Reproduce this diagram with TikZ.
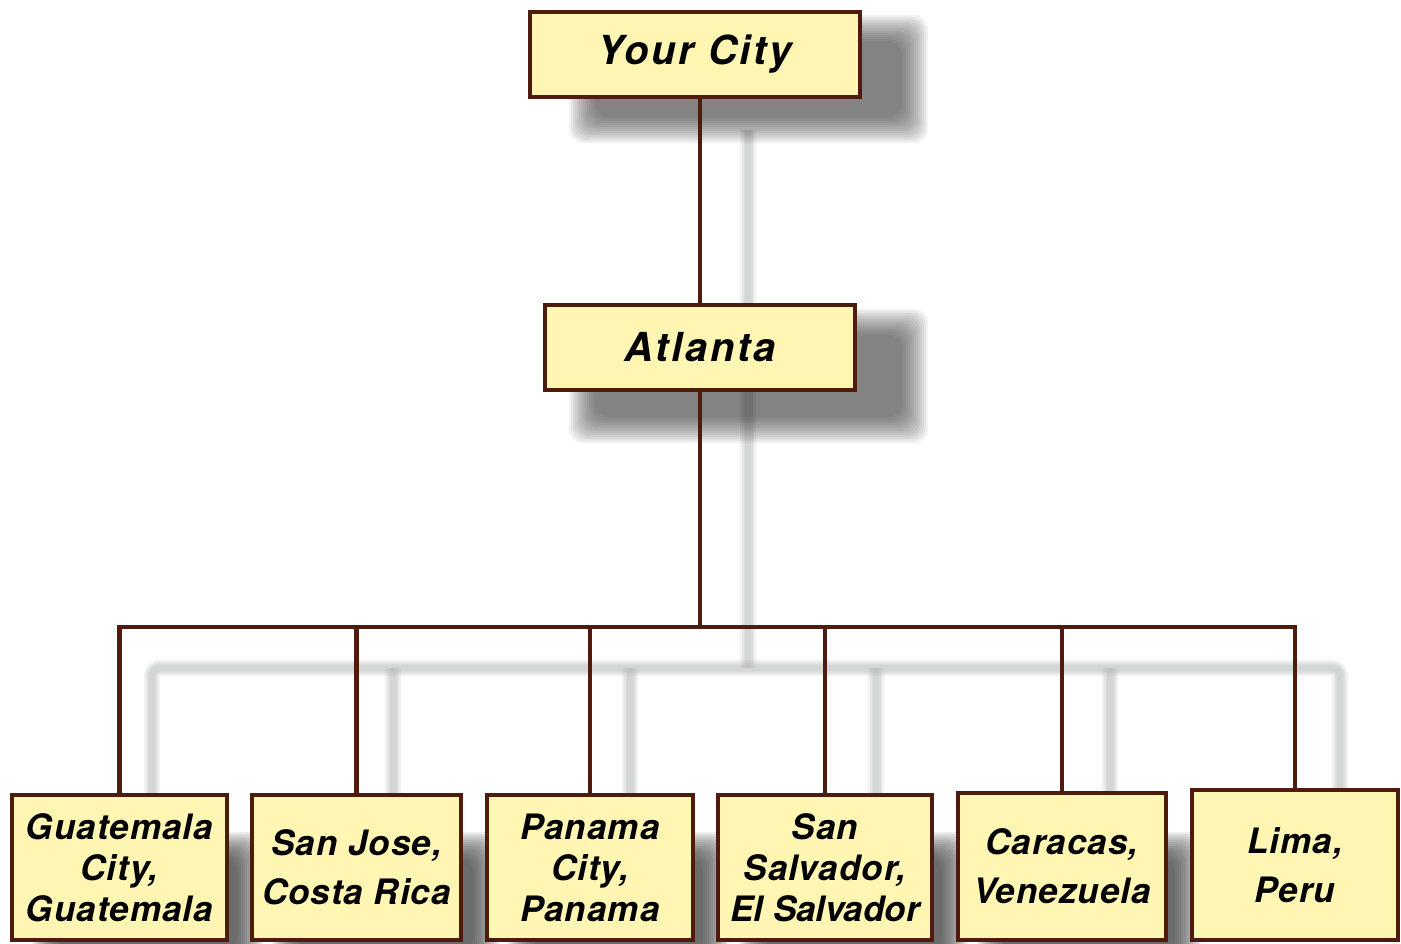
\documentclass[tikz,border=0pt]{standalone}
\usepackage{fontspec}
\setmainfont{TeX Gyre Heros}

\definecolor{boxfill}{RGB}{255,246,180}
\definecolor{boxline}{RGB}{78,28,12}
\definecolor{shadowgray}{RGB}{55,55,55}
\definecolor{wiregray}{RGB}{175,180,180}

\tikzset{
  citybox/.style={draw=boxline, line width=4.5, fill=boxfill, align=center, inner sep=0,
    font=\bfseries\itshape\fontsize{35}{41}\selectfont\addfontfeature{LetterSpace=3}},
  topbox/.style={citybox, minimum width=330, minimum height=85,
    font=\bfseries\itshape\fontsize{40}{48}\selectfont\addfontfeature{LetterSpace=7}},
  wire/.style={draw=boxline, line width=4.6},
}

% soft drop shadow behind a box
\newcommand{\dropshade}[5][0.065]{%
  \foreach \k in {0,...,13}
    \fill[shadowgray, fill opacity=#1, rounded corners=14]
      ({#2-13+2*\k},{#3-13+2*\k}) rectangle ({#4+13-2*\k},{#5+13-2*\k});
}
% pale shadow of the connector lines
\newcommand{\wireshade}[1]{%
  \foreach \w in {16,12,9,6}
    \draw[wiregray, line width=\w, opacity=0.18, rounded corners=8] #1;
}

\begin{document}
\begin{tikzpicture}[x=1pt,y=1pt,yscale=-1]
\clip (0,0) rectangle (1401,943);

%Shadows of the connectors
\wireshade{(748,130) -- (748,668)}
\wireshade{(152,795) -- (152,668) -- (1340,668) -- (1340,795)}
\foreach \sx in {393,630,876,1110}{
  \wireshade{(\sx,668) -- (\sx,795)}
}

%Shadows of the boxes
\dropshade{582}{28}{915}{130}
\dropshade{582}{322}{915}{430}
\dropshade[0.09]{45}{845}{250}{965}
\dropshade[0.09]{285}{845}{486}{965}
\dropshade[0.09]{520}{845}{716}{965}
\dropshade[0.09]{752}{845}{955}{965}
\dropshade[0.09]{990}{845}{1188}{965}

% Top nodes
\node[topbox] (city) at (695,54.5) {Your City};
\node[topbox, minimum width=310] (atlanta) at (700,347.5) {Atlanta};

% Bottom nodes
\node[citybox, minimum width=215, minimum height=145] (guat) at (119.5,867.5) {Guatemala\\City,\\Guatemala};
\node[citybox, minimum width=209, minimum height=145] (sanjose) at (356.5,867.5) {San Jose,\\[8pt]Costa Rica};
\node[citybox, minimum width=206, minimum height=145] (panama) at (590,867.5) {Panama\\City,\\Panama};
\node[citybox, minimum width=214, minimum height=145] (salvador) at (825,867.5) {San\\Salvador,\\{\addfontfeature{LetterSpace=0}El Salvador}};
\node[citybox, minimum width=208, minimum height=147] (caracas) at (1062,866.5) {Caracas,\\[8pt]Venezuela};
\node[citybox, minimum width=206, minimum height=150] (lima) at (1295,865) {Lima,\\[8pt]Peru};

% Connectors
\coordinate (bus) at (700,627);
\draw[wire] (atlanta.north |- city.south) -- (atlanta.north);
\draw[wire] (atlanta.south) -- (bus);
\draw[wire] (guat.north) -- (guat.north |- bus) -- (lima.north |- bus) -- (lima.north);
\foreach \n in {sanjose,panama,salvador,caracas}
  \draw[wire] (\n.north) -- (\n.north |- bus);

\end{tikzpicture}
\end{document}
